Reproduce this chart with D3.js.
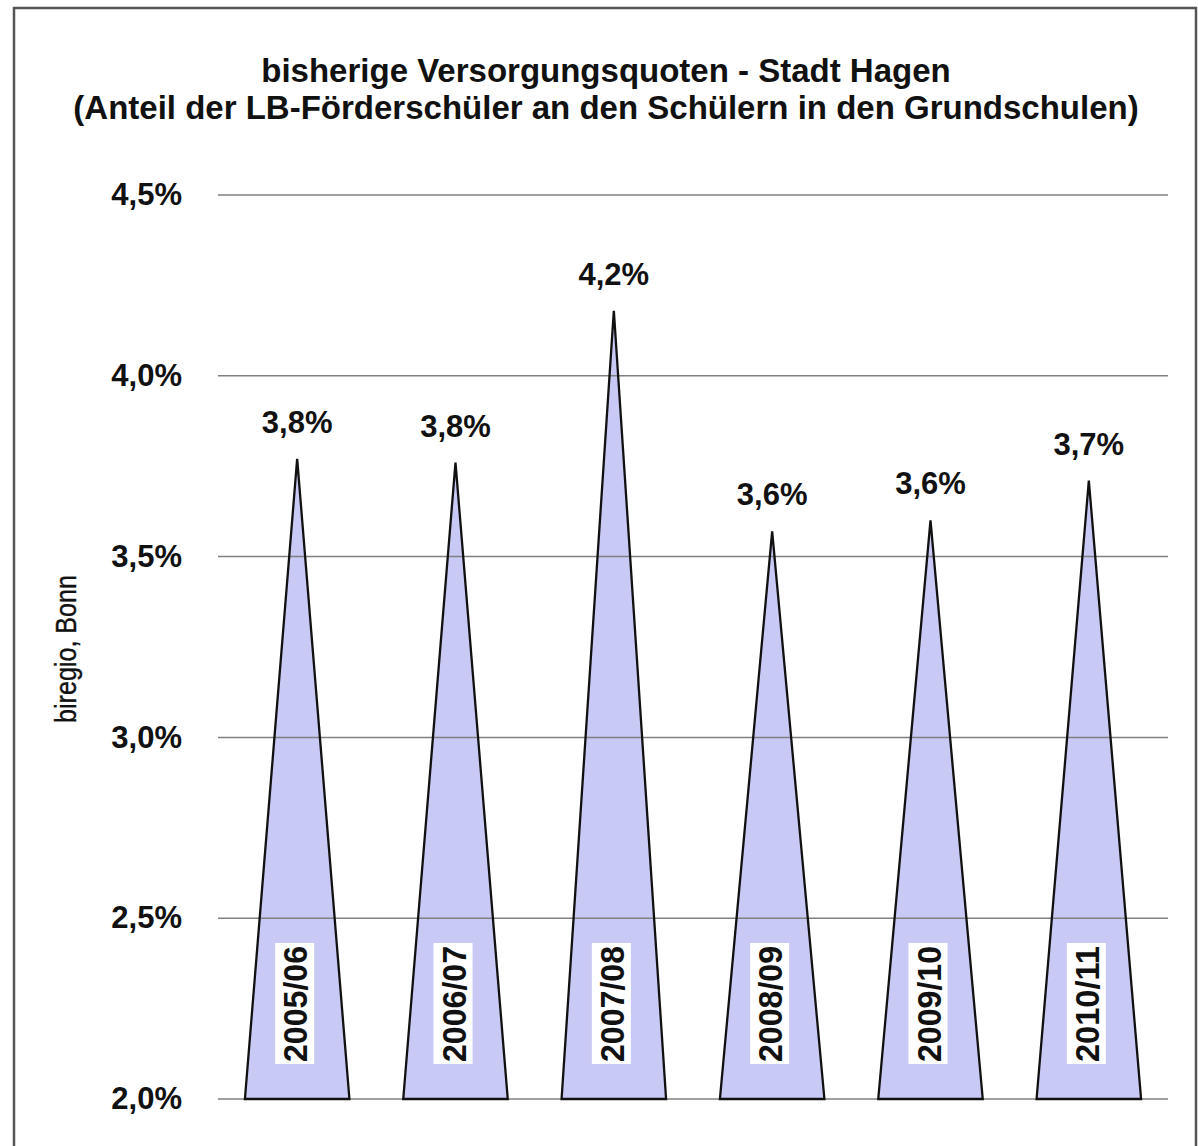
<!DOCTYPE html>
<html>
<head>
<meta charset="utf-8">
<script src="https://cdn.jsdelivr.net/npm/d3@7"></script>
<style>
  body { margin: 0; background: #fff; }
  svg text { font-family: "Liberation Sans", Arial, sans-serif; }
</style>
</head>
<body>
<svg id="chart"></svg>
<script>
// data
var years = ["2005/06", "2006/07", "2007/08", "2008/09", "2009/10", "2010/11"];
var quotes = [3.77, 3.76, 4.18, 3.57, 3.60, 3.71];
var valueLabels = ["3,8%", "3,8%", "4,2%", "3,6%", "3,6%", "3,7%"];
var ticks = [2.0, 2.5, 3.0, 3.5, 4.0, 4.5];
var titleLines = ["bisherige Versorgungsquoten - Stadt Hagen",
                  "(Anteil der LB-Förderschüler an den Schülern in den Grundschulen)"];
var sourceLabel = "biregio, Bonn";

var width = 1198,
    height = 1146;
var plot = {left: 218, right: 1168, top: 195, bottom: 1099};

var svg = d3.select("#chart")
    .attr("width", width)
    .attr("height", height);

// frame round the chart
svg.append("rect")
    .attr("x", 14).attr("y", 8)
    .attr("width", 1182).attr("height", 1160)
    .attr("fill", "#fff")
    .attr("stroke", "#555")
    .attr("stroke-width", 2.5);

// title
svg.append("g").selectAll("text")
    .data(titleLines)
    .enter().append("text")
    .attr("x", 606)
    .attr("y", function(d, i){ return 82 + i * 37; })
    .attr("text-anchor", "middle")
    .attr("font-size", 33)
    .attr("font-weight", "bold")
    .attr("fill", "#111")
    .text(function(d){ return d; });

// scales
var x = d3.scaleBand().domain(years).range([plot.left, plot.right]);
var y = d3.scaleLinear().domain([2.0, 4.5]).range([plot.bottom, plot.top]);
var halfBase = x.bandwidth() * 0.33;

// triangles (pyramid columns)
var tri = function(d, i){
    var cx = x(d) + x.bandwidth() / 2;
    return "M " + (cx - halfBase) + " " + y(2.0) +
           " L " + cx + " " + y(quotes[i]) +
           " L " + (cx + halfBase) + " " + y(2.0) + " Z";
};

svg.append("g").selectAll("path.fill")
    .data(years)
    .enter().append("path")
    .attr("class", "fill")
    .attr("d", tri)
    .attr("fill", "#c9c9f6")
    .attr("stroke", "none");

// gridlines (they show through the triangles)
svg.append("g").selectAll("line")
    .data(ticks)
    .enter().append("line")
    .attr("x1", plot.left).attr("x2", plot.right)
    .attr("y1", function(d){ return y(d); })
    .attr("y2", function(d){ return y(d); })
    .attr("stroke", "#808080")
    .attr("stroke-width", 1.5);

svg.append("g").selectAll("path.edge")
    .data(years)
    .enter().append("path")
    .attr("class", "edge")
    .attr("d", tri)
    .attr("fill", "none")
    .attr("stroke", "#111")
    .attr("stroke-width", 2.3);

// y tick labels
svg.append("g").selectAll("text")
    .data(ticks)
    .enter().append("text")
    .attr("x", 182)
    .attr("y", function(d){ return y(d) - 1; })
    .attr("dy", "0.36em")
    .attr("text-anchor", "end")
    .attr("font-size", 31)
    .attr("font-weight", "bold")
    .attr("fill", "#111")
    .text(function(d){ return d3.format(".1f")(d).replace(".", ",") + "%"; });

// value labels above the peaks
svg.append("g").selectAll("text")
    .data(years)
    .enter().append("text")
    .attr("x", function(d){ return x(d) + x.bandwidth() / 2; })
    .attr("y", function(d, i){ return y(quotes[i]) - 26; })
    .attr("text-anchor", "middle")
    .attr("font-size", 31)
    .attr("font-weight", "bold")
    .attr("fill", "#111")
    .text(function(d, i){ return valueLabels[i]; });

// category labels, rotated, on white boxes
var cat = svg.append("g").selectAll("g")
    .data(years)
    .enter().append("g")
    .attr("transform", function(d){
        return "translate(" + (x(d) + x.bandwidth() / 2) + ",0)";
    });

cat.append("rect")
    .attr("x", -22).attr("y", 943)
    .attr("width", 39).attr("height", 121)
    .attr("fill", "#fff");

cat.append("text")
    .attr("transform", "translate(10,1062) rotate(-90)")
    .attr("font-size", 34)
    .attr("font-weight", "bold")
    .attr("fill", "#111")
    .attr("textLength", 116)
    .attr("lengthAdjust", "spacingAndGlyphs")
    .text(function(d){ return d; });

// source note on the left
svg.append("text")
    .attr("transform", "translate(76,649) rotate(-90)")
    .attr("text-anchor", "middle")
    .attr("font-size", 29)
    .attr("fill", "#111")
    .attr("stroke", "#111")
    .attr("stroke-width", 0.4)
    .attr("textLength", 148)
    .attr("lengthAdjust", "spacingAndGlyphs")
    .text(sourceLabel);
</script>
</body>
</html>
